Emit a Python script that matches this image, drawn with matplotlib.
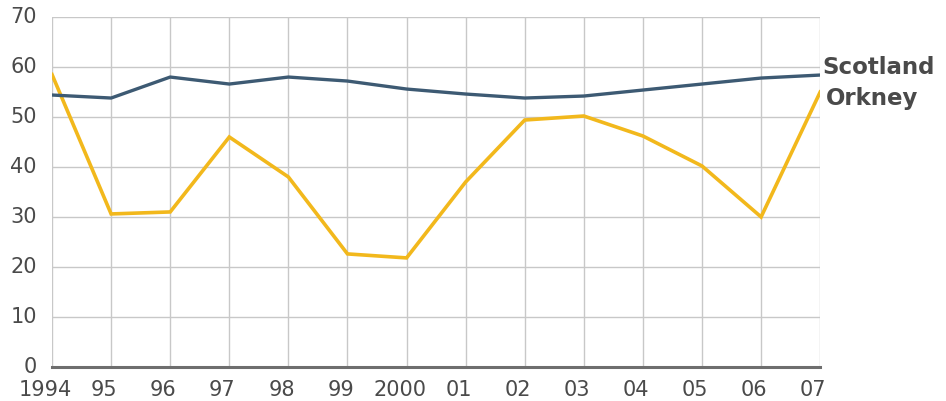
"""Line chart: Scotland vs Orkney, 1994-2007."""

import matplotlib.pyplot as plt
from matplotlib.transforms import ScaledTranslation

years = ["1994", "95", "96", "97", "98", "99", "2000", "01", "02", "03", "04", "05", "06", "07"]
scotland = [54.4, 53.8, 58.0, 56.6, 58.0, 57.2, 55.6, 54.6, 53.8, 54.2, 55.4, 56.6, 57.8, 58.4]
orkney = [58.5, 30.6, 31.0, 46.0, 38.0, 22.6, 21.8, 37.0, 49.4, 50.2, 46.2, 40.2, 30.0, 55.0]

SCOT_COLOR = "#3d5a73"
ORK_COLOR = "#f2b81c"
TEXT_COLOR = "#4a4a4a"

fig = plt.figure(figsize=(9.46, 4.02), dpi=100)
ax = fig.add_axes([0.055, 0.085, 0.812, 0.87])

x = list(range(len(years)))
ax.plot(x, orkney, color=ORK_COLOR, linewidth=2.6, solid_joinstyle="miter")
ax.plot(x, scotland, color=SCOT_COLOR, linewidth=2.4)

ax.set_xlim(0, len(years) - 1)
ax.set_ylim(0, 70)
ax.set_xticks(x)
ax.set_xticklabels(years)
ax.set_yticks(range(0, 71, 10))

ax.grid(True, color="#c8c8c8", linewidth=1.0)
ax.set_axisbelow(True)
for side in ("left", "right", "top"):
    ax.spines[side].set_visible(False)
ax.spines["bottom"].set_color("#6e6e6e")
ax.spines["bottom"].set_linewidth(2.2)
ax.tick_params(length=0, labelsize=15, colors=TEXT_COLOR)
ax.tick_params(axis="y", pad=11)
ax.tick_params(axis="x", pad=9)

# x labels sit a little left of their gridlines in the original
shift = ScaledTranslation(-5 / 72, 0, fig.dpi_scale_trans)
for lbl in ax.get_xticklabels():
    lbl.set_transform(lbl.get_transform() + shift)
for lbl in ax.get_yticklabels():
    lbl.set_transform(lbl.get_transform() + ScaledTranslation(0, 2 / 72, fig.dpi_scale_trans))

# end labels
ax.annotate("Scotland", (x[-1], scotland[-1]), xytext=(1.5, 6.5), textcoords="offset points",
            ha="left", va="center", fontsize=16.5, fontweight="bold", color=TEXT_COLOR,
            annotation_clip=False)
ax.annotate("Orkney", (x[-1], orkney[-1]), xytext=(4, -4), textcoords="offset points",
            ha="left", va="center", fontsize=16.5, fontweight="bold", color=TEXT_COLOR,
            annotation_clip=False)

fig.savefig("out.png", dpi=100)
